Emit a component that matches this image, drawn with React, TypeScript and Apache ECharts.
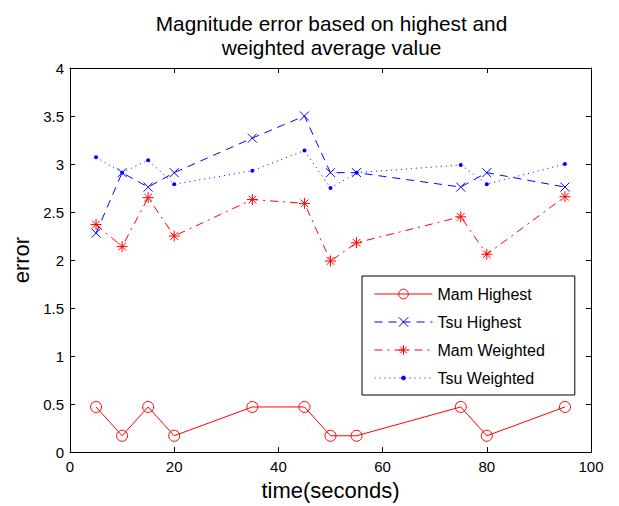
import React, { useEffect, useRef } from "react";
import * as echarts from "echarts";

// Time (seconds) at which each magnitude error was measured
const times = [5, 10, 15, 20, 35, 45, 50, 55, 75, 80, 95];
const mamHighest = [0.47, 0.17, 0.47, 0.17, 0.47, 0.47, 0.17, 0.17, 0.47, 0.17, 0.47];
const tsuHighest = [2.28, 2.91, 2.76, 2.91, 3.27, 3.5, 2.91, 2.91, 2.76, 2.91, 2.76];
const mamWeighted = [2.37, 2.14, 2.65, 2.25, 2.63, 2.59, 1.99, 2.18, 2.45, 2.06, 2.66];
const tsuWeighted = [3.07, 2.91, 3.04, 2.79, 2.93, 3.14, 2.75, 2.91, 2.99, 2.79, 3.0];

const seriesNames = ["Mam Highest", "Tsu Highest", "Mam Weighted", "Tsu Weighted"];
const titleLines = ["Magnitude error based on highest and", "weighted average value"];
const xName = "time(seconds)";
const yName = "error";

const FONT = "'Liberation Sans', Arial, Helvetica, sans-serif";
const RED = "#ff0000";
const BLUE = "#0000ff";
const CLEAR = "rgba(0,0,0,0)";

// Marker shapes
const crossSymbol = "path://M0,0L10,10M10,0L0,10";
const starSymbol = "path://M5,0L5,10M0,5L10,5M1.5,1.5L8.5,8.5M8.5,1.5L1.5,8.5";
const dotSymbol = "path://M0,0M10,10M7,5A2,2,0,1,1,3,5A2,2,0,1,1,7,5Z";

const pairs = (ys: number[]) => times.map((t, i) => [t, ys[i]]);

export default function App() {
  const ref = useRef<HTMLDivElement>(null);

  useEffect(() => {
    document.body.style.margin = "0";
    if (!ref.current) return;
    const chart = echarts.init(ref.current, null, { renderer: "svg" });

    const gridLeft = 70;
    const gridRight = 28;
    const plotCenter = (gridLeft + (619 - gridRight)) / 2;

    const tickCommon = {
      axisLine: { show: true, onZero: false, lineStyle: { color: "#000", width: 1 } },
      axisTick: { show: true, inside: true, length: 5, lineStyle: { color: "#000", width: 1 } },
      splitLine: { show: false },
    };

    chart.setOption({
      animation: false,
      backgroundColor: "#fff",
      textStyle: { fontFamily: FONT },
      grid: { left: gridLeft, right: gridRight, top: 68, bottom: 48, containLabel: false },
      graphic: [
        {
          type: "text",
          x: plotCenter + 1,
          y: 11,
          style: {
            text: titleLines.join("\n"),
            textAlign: "center",
            textVerticalAlign: "top",
            font: `20.8px ${FONT}`,
            lineHeight: 24,
            fill: "#000",
          },
        },
      ],
      xAxis: [
        {
          type: "value",
          min: 0,
          max: 100,
          interval: 20,
          position: "bottom",
          name: xName,
          nameLocation: "middle",
          nameGap: 21,
          nameTextStyle: { fontSize: 22, color: "#000", fontFamily: FONT },
          axisLabel: { fontSize: 15, color: "#000", margin: 7, fontFamily: FONT },
          ...tickCommon,
        },
        {
          type: "value",
          min: 0,
          max: 100,
          interval: 20,
          position: "top",
          axisLabel: { show: false },
          ...tickCommon,
        },
      ],
      yAxis: [
        {
          type: "value",
          min: 0,
          max: 4,
          interval: 0.5,
          position: "left",
          name: yName,
          nameLocation: "middle",
          nameGap: 35,
          nameTextStyle: { fontSize: 22, color: "#000", fontFamily: FONT },
          axisLabel: { fontSize: 15, color: "#000", margin: 6, fontFamily: FONT },
          ...tickCommon,
        },
        {
          type: "value",
          min: 0,
          max: 4,
          interval: 0.5,
          position: "right",
          axisLabel: { show: false },
          ...tickCommon,
        },
      ],
      legend: {
        orient: "vertical",
        left: 362,
        top: 276,
        padding: [10, 30, 9, 12],
        itemWidth: 58,
        itemHeight: 12,
        itemGap: 12,
        borderColor: "#000",
        borderWidth: 1,
        backgroundColor: "#fff",
        textStyle: { fontSize: 16, color: "#000", lineHeight: 16, fontFamily: FONT },
        itemStyle: { borderWidth: 1 },
        lineStyle: { width: 1 },
        data: seriesNames,
      },
      series: [
        {
          name: seriesNames[0],
          type: "line",
          data: pairs(mamHighest),
          symbol: "circle",
          symbolSize: 11,
          lineStyle: { color: RED, width: 1, type: "solid" },
          itemStyle: { color: CLEAR, borderColor: RED, borderWidth: 1 },
        },
        {
          name: seriesNames[1],
          type: "line",
          data: pairs(tsuHighest),
          symbol: crossSymbol,
          symbolSize: 9,
          lineStyle: { color: BLUE, width: 1, type: [8, 6] },
          itemStyle: { color: CLEAR, borderColor: BLUE, borderWidth: 1 },
        },
        {
          name: seriesNames[2],
          type: "line",
          data: pairs(mamWeighted),
          symbol: starSymbol,
          symbolSize: 11,
          lineStyle: { color: RED, width: 1, type: [8, 5, 2, 5] },
          itemStyle: { color: CLEAR, borderColor: RED, borderWidth: 1 },
        },
        {
          name: seriesNames[3],
          type: "line",
          data: pairs(tsuWeighted),
          symbol: dotSymbol,
          symbolSize: 10,
          lineStyle: { color: BLUE, width: 1, type: [1, 4] },
          itemStyle: { color: BLUE, borderColor: BLUE, borderWidth: 0 },
        },
      ],
    });

    return () => chart.dispose();
  }, []);

  return (
    <div
      ref={ref}
      style={{ position: "absolute", left: 0, top: 0, width: 619, height: 506, background: "#fff" }}
    />
  );
}
